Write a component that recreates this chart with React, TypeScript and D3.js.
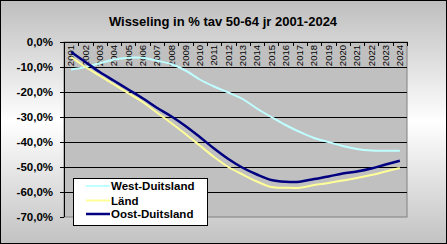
import React from "react";
import * as d3 from "d3";

const years = ["2001","2002","2003","2004","2005","2006","2007","2008","2009","2010","2011","2012","2013","2014","2015","2016","2017","2018","2019","2020","2021","2022","2023","2024"];
const west = [-11, -10, -8.5, -7, -6.3, -6.3, -7.5, -8.8, -11.4, -15, -17.8, -20.2, -22.8, -26.6, -30, -33.2, -36, -38.4, -40, -41.6, -42.8, -43.4, -43.5, -43.5];
const land = [-6, -10, -13.5, -17, -20.5, -24, -28.2, -32.4, -36.8, -41.4, -46, -50, -53, -55.8, -58, -58.3, -58.3, -57.2, -56.4, -55.4, -54.4, -53.2, -51.8, -50.4];
const oost = [-4, -8, -12, -15.5, -19, -22.5, -26.3, -29.7, -33.6, -38, -42.6, -46.8, -50.3, -53, -55.2, -55.9, -55.9, -54.8, -53.8, -52.6, -51.8, -50.6, -49, -47.5];
const yTicks = [0, -10, -20, -30, -40, -50, -60, -70];
const seriesNames = ["West-Duitsland", "Länd", "Oost-Duitsland"];
const title = "Wisseling in % tav 50-64 jr 2001-2024";

const W = 447, H = 244;
const plot = { l: 64, r: 407, t: 42, b: 217 };
const colors = ["#C0FFFF", "#FFFF99", "#000080"];
const widths = [2, 2, 2.5];

export default function App() {
  const x = d3.scaleBand().domain(years).range([plot.l, plot.r]).paddingInner(0).paddingOuter(0);
  const y = d3.scaleLinear().domain([0, -70]).range([plot.t, plot.b]);
  const cx = (d: string) => (x(d) as number) + x.bandwidth() / 2;
  const line = d3.line<number>().x((_, i) => cx(years[i])).y((v) => y(v)).curve(d3.curveCatmullRom.alpha(0.5));
  const data = [west, land, oost];
  const fmt = (v: number) => (v === 0 ? "0,0%" : `${v.toFixed(1).replace(".", ",")}%`);
  const font = "'Liberation Sans', Arial, sans-serif";
  const boundaries = years.map((d) => x(d) as number).concat([plot.r]);
  const lg = { x: 73.5, y: 178.5, w: 134, h: 47 };
  const rowsY = [186, 200.5, 214];

  return (
    <svg width={W} height={H} style={{ position: "fixed", left: 0, top: 0 }} fontFamily={font}>
      <defs>
        <linearGradient id="bg" x1="0" y1="0" x2="0" y2="1">
          <stop offset="0" stopColor="#bebebe" />
          <stop offset="0.5" stopColor="#ffffff" />
          <stop offset="1" stopColor="#c2c2c2" />
        </linearGradient>
      </defs>
      <rect x={0.5} y={0.5} width={W - 1} height={H - 1} fill="url(#bg)" stroke="#000" />
      <text x={223} y={26} textAnchor="middle" fontSize={13} fontWeight="bold">{title}</text>
      <rect x={plot.l} y={plot.t} width={plot.r - plot.l} height={plot.b - plot.t} fill="#C0C0C0" stroke="#808080" />
      {yTicks.slice(1, -1).map((t) => (
        <line key={t} x1={plot.l} x2={plot.r} y1={y(t) + 0.5} y2={y(t) + 0.5} stroke="#000" />
      ))}
      <line x1={plot.l + 0.5} x2={plot.l + 0.5} y1={plot.t} y2={plot.b} stroke="#000" />
      <line x1={plot.l} x2={plot.r} y1={plot.t + 0.5} y2={plot.t + 0.5} stroke="#000" />
      {yTicks.map((t) => (
        <g key={t}>
          <line x1={plot.l - 4} x2={plot.l} y1={y(t) + 0.5} y2={y(t) + 0.5} stroke="#000" />
          <text x={53} y={y(t)} dy="0.35em" textAnchor="end" fontSize={11.5} fontWeight="bold">{fmt(t)}</text>
        </g>
      ))}
      {boundaries.map((b, i) => (
        <line key={i} x1={Math.round(b) + 0.5} x2={Math.round(b) + 0.5} y1={plot.t} y2={plot.t + 4} stroke="#000" />
      ))}
      {years.map((d) => (
        <text key={d} transform={`translate(${cx(d)},${plot.t + 3}) rotate(-90)`} dy="0.35em" textAnchor="end" fontSize={9.5}>{d}</text>
      ))}
      {data.map((s, i) => (
        <path key={i} d={line(s) as string} fill="none" stroke={colors[i]} strokeWidth={widths[i]} />
      ))}
      <rect x={lg.x} y={lg.y} width={lg.w} height={lg.h} fill="#fff" stroke="#000" />
      {seriesNames.map((n, i) => (
        <g key={n}>
          <line x1={86} x2={110} y1={rowsY[i]} y2={rowsY[i]} stroke={colors[i]} strokeWidth={widths[i]} />
          <text x={111} y={rowsY[i]} dy="0.35em" fontSize={11.5} fontWeight="bold">{n}</text>
        </g>
      ))}
    </svg>
  );
}
